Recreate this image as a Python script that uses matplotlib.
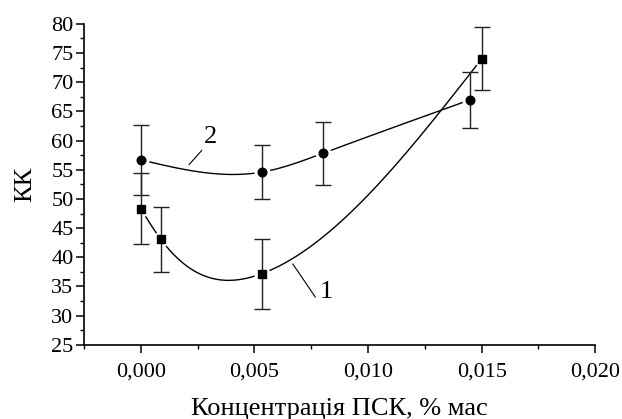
import numpy as np
import matplotlib
matplotlib.use("Agg")
import matplotlib.pyplot as plt
from matplotlib.ticker import MultipleLocator, FuncFormatter

# data
x1 = [0.0, 0.00088, 0.00533, 0.015]
y1 = [48.3, 43.1, 37.2, 74.0]
e1 = [6.1, 5.6, 6.0, 5.4]
x2 = [0.0, 0.00533, 0.008, 0.0145]
y2 = [56.7, 54.6, 57.8, 67.0]
e2 = [6.0, 4.6, 5.4, 4.8]
xticks = [0.000, 0.005, 0.010, 0.015, 0.020]
yticks = [25, 30, 35, 40, 45, 50, 55, 60, 65, 70, 75, 80]


def natural_spline(xs, ys, n=300):
    xs = np.asarray(xs, float); ys = np.asarray(ys, float)
    m = len(xs); h = np.diff(xs)
    A = np.zeros((m, m)); b = np.zeros(m)
    A[0, 0] = 1; A[-1, -1] = 1
    for i in range(1, m - 1):
        A[i, i - 1] = h[i - 1]; A[i, i] = 2 * (h[i - 1] + h[i]); A[i, i + 1] = h[i]
        b[i] = 3 * ((ys[i + 1] - ys[i]) / h[i] - (ys[i] - ys[i - 1]) / h[i - 1])
    c = np.linalg.solve(A, b)
    xx = np.linspace(xs[0], xs[-1], n); yy = np.empty_like(xx)
    for k, xv in enumerate(xx):
        i = min(np.searchsorted(xs, xv, side='right') - 1, m - 2)
        bi = (ys[i + 1] - ys[i]) / h[i] - h[i] * (2 * c[i] + c[i + 1]) / 3
        di = (c[i + 1] - c[i]) / (3 * h[i])
        t = xv - xs[i]
        yy[k] = ys[i] + bi * t + c[i] * t ** 2 + di * t ** 3
    return xx, yy

plt.rcParams['font.family'] = ['Liberation Serif', 'DejaVu Serif']

fig = plt.figure(figsize=(6.22, 4.19), dpi=100)
ax = fig.add_axes([0.135, 0.177, 0.822, 0.766])

for xs, ys, es, mk, ms in [(x1, y1, e1, 's', 5.2), (x2, y2, e2, 'o', 6.2)]:
    xx, yy = natural_spline(xs, ys)
    ax.plot(xx, yy, color='black', lw=1.0, zorder=1)
    ax.plot(xs, ys, ls='none', marker='o', ms=10.5, mfc='white', mec='white', zorder=2)
    ax.errorbar(xs, ys, yerr=es, fmt='none', ecolor='#222222', elinewidth=1.0,
                capsize=5.6, capthick=1.0, zorder=3)
    ax.plot(xs, ys, ls='none', marker=mk, ms=ms, color='black', zorder=4)

# curve labels
ax.plot([0.00268, 0.00213], [58.3, 55.9], color='black', lw=0.8)
ax.text(0.00309, 60.6, '2', fontsize=19, ha='center', va='center')
ax.plot([0.00669, 0.00768], [38.85, 33.2], color='black', lw=0.8)
ax.text(0.00815, 34.0, '1', fontsize=19, ha='center', va='center')

ax.set_xlim(-0.0025, 0.020)
ax.set_ylim(25, 80)
ax.set_xticks(xticks)
ax.set_yticks(yticks)
ax.xaxis.set_minor_locator(MultipleLocator(0.0025))
ax.yaxis.set_minor_locator(MultipleLocator(2.5))
ax.xaxis.set_major_formatter(FuncFormatter(lambda v, p: f"{v:.3f}".replace('.', ',')))
ax.yaxis.set_major_formatter(FuncFormatter(lambda v, p: f"{v:.0f}"))
ax.spines['top'].set_visible(False)
ax.spines['right'].set_visible(False)
for s in ['left', 'bottom']:
    ax.spines[s].set_linewidth(1.2)
ax.tick_params(which='major', direction='out', length=5.5, width=1.1, labelsize=16, pad=2)
ax.tick_params(which='minor', direction='out', length=3, width=1.0)
ax.tick_params(axis='x', pad=7)

ax.set_xlabel('Концентрація ПСК, % мас', fontsize=19, labelpad=12)
ax.set_ylabel('КК', fontsize=19, labelpad=11)

fig.savefig('out.png', dpi=100)
